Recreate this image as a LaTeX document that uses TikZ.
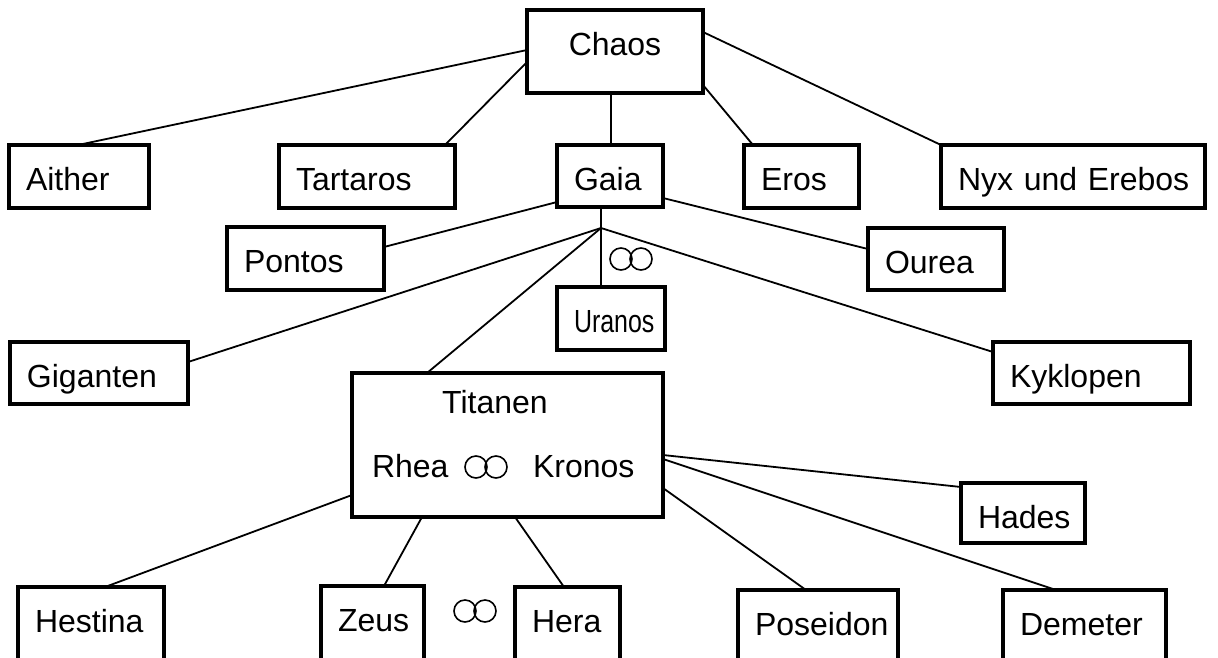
\documentclass[tikz,border=0pt]{standalone}
\usepackage{fontspec}
\setmainfont{Liberation Sans}
\usetikzlibrary{calc}
\newcommand\myfs{\fontsize{32}{38}\selectfont}
\tikzset{
  box/.style={draw, line width=3.3pt, anchor=north west, outer sep=0pt, inner xsep=17pt, inner ysep=0pt,
    align=left, text height=45pt, font=\myfs},
  con/.style={line width=1.8pt},
  ring/.style={line width=1.6pt},
  lbl/.style={font=\myfs, inner sep=0pt, outer sep=0pt},
}
\begin{document}
\begin{tikzpicture}[x=1pt,y=-1pt]
\useasboundingbox (0,0) rectangle (1218,657);
\clip (0,0) rectangle (1218,657);
\fill[white] (0,0) rectangle (1218,657);
% boxes
\node[box, line width=4pt, align=center, text width=142pt, text depth=38pt] (chaos) at (527,10) {Chaos};
\node[box, text width=106pt, text depth=18pt] (aither) at (9,145) {Aither};
\node[box, text width=142pt, text depth=18pt] (tartaros) at (279,145) {Tartaros};
\node[box, text width=72pt, text depth=17pt] (gaia) at (557,145) {Gaia};
\node[box, text width=81pt, text depth=18pt] (eros) at (744,145) {Eros};
\node[box, text width=230pt, text depth=18pt] (nyx) at (941,145) {\mbox{Nyx und Erebos}};
\node[box, text width=123pt, text depth=18pt] (pontos) at (227,227) {Pontos};
\node[box, text width=102pt, text depth=17pt] (ourea) at (868,228) {Ourea};
\node[box, text width=74pt, text depth=18pt] (uranos) at (557,287) {\mbox{\addfontfeature{FakeStretch=0.78}Uranos}};
\node[box, text width=144pt, text depth=17pt] (giganten) at (10,342) {Giganten};
\node[box, text width=163pt, text depth=17pt] (kyklopen) at (993,342) {Kyklopen};
\node[box, minimum width=311pt, minimum height=144pt, inner sep=0pt] (titanen) at (352,373) {};
\node[lbl, anchor=base] (tt) at (495,413) {Titanen};
\node[lbl, anchor=base west] (rhea) at (372,477) {Rhea};
\node[lbl, anchor=base west] (kronos) at (533,477) {Kronos};
\node[box, text width=90pt, text depth=15pt] (hades) at (961,483) {Hades};
\node[box, text width=112pt, text depth=60pt] (hestina) at (18,587) {Hestina};
\node[box, text width=69pt, text depth=60pt] (zeus) at (321,586) {Zeus};
\node[box, text width=71pt, text depth=60pt] (hera) at (515,587) {Hera};
\node[box, text width=126pt, text depth=60pt] (poseidon) at (738,590) {\mbox{Poseidon}};
\node[box, text width=129pt, text depth=60pt] (demeter) at (1003,590) {Demeter};
% rings
\coordinate (r1) at (631,259);
\coordinate (r2) at (486,467);
\coordinate (r3) at (475,611);
\foreach \r in {r1,r2,r3} {
  \draw[ring] ($(\r)+(-10,0)$) circle[radius=11pt];
  \draw[ring] ($(\r)+(10,0)$) circle[radius=11pt];
}
% connectors from Chaos
\draw[con] ($(chaos.north west)+(0,40)$) -- ($(aither.north west)+(69,0)$);
\draw[con] ($(chaos.north west)+(0,52)$) -- ($(tartaros.north west)+(166,0)$);
\draw[con] ($(chaos.south west)+(84,0)$) -- ($(gaia.north west)+(54,0)$);
\draw[con] ($(chaos.north east)+(0,75)$) -- ($(eros.north west)+(9,0)$);
\draw[con] ($(chaos.north east)+(0,22)$) -- (nyx.north west);
% connectors from Gaia
\coordinate (J) at ($(gaia.south west)+(44,21)$);
\draw[con] ($(gaia.south west)+(44,0)$) -- ($(uranos.north west)+(44,0)$);
\draw[con] ($(gaia.north west)+(0,57)$) -- ($(pontos.north east)+(0,20)$);
\draw[con] ($(gaia.north east)+(0,53)$) -- ($(ourea.north west)+(0,21)$);
\draw[con] (J) -- ($(giganten.north east)+(0,20)$);
\draw[con] (J) -- ($(titanen.north west)+(75,0)$);
\draw[con] (J) -- ($(kyklopen.north west)+(0,10)$);
% connectors from Titanen
\draw[con] ($(titanen.north west)+(0,122)$) -- ($(hestina.north west)+(87,0)$);
\draw[con] ($(titanen.south west)+(70,0)$) -- ($(zeus.north west)+(63,0)$);
\draw[con] ($(titanen.south west)+(163,0)$) -- ($(hera.north west)+(49,0)$);
\draw[con] ($(titanen.north east)+(0,115)$) -- ($(poseidon.north west)+(68,0)$);
\draw[con] ($(titanen.north east)+(0,82)$) -- ($(hades.north west)+(0,4)$);
\draw[con] ($(titanen.north east)+(0,86)$) -- ($(demeter.north west)+(53,0)$);
\end{tikzpicture}
\end{document}
